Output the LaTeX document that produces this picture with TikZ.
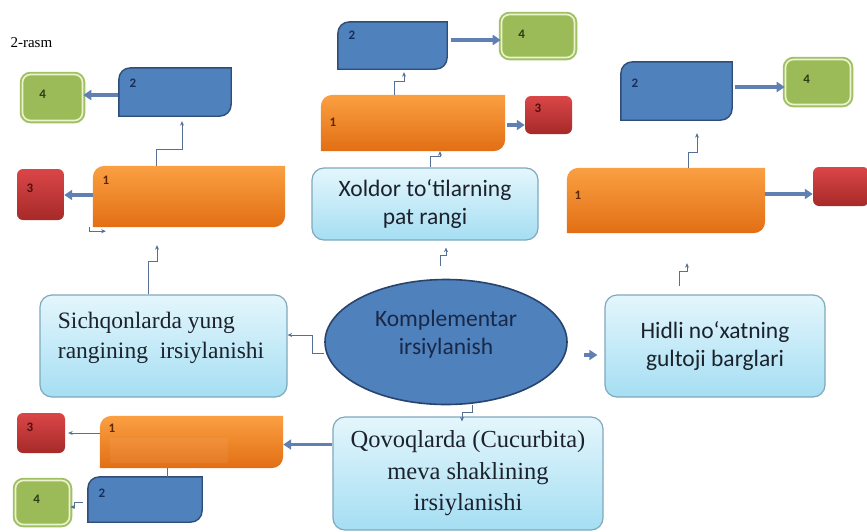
\documentclass[tikz,border=0pt]{standalone}
\usepackage{fontspec}
\setmainfont{Liberation Serif}
\newfontfamily\calib{Carlito}
\usetikzlibrary{shapes.geometric, arrows.meta, positioning, calc}

\definecolor{blueface}{RGB}{79, 129, 189}
\definecolor{blueedge}{RGB}{47, 77, 118}
\definecolor{orangetop}{RGB}{250, 160, 66}
\definecolor{orangebot}{RGB}{226, 110, 20}
\definecolor{redtop}{RGB}{218, 70, 72}
\definecolor{redbot}{RGB}{166, 42, 40}
\definecolor{greenface}{RGB}{155, 187, 89}
\definecolor{greenring}{RGB}{160, 192, 100}
\definecolor{greenlight}{RGB}{236, 242, 206}
\definecolor{topictop}{RGB}{228, 246, 252}
\definecolor{topicbot}{RGB}{165, 222, 243}
\definecolor{topicedge}{RGB}{128, 168, 188}
\definecolor{hubedge}{RGB}{40, 68, 108}
\definecolor{hubink}{RGB}{25, 40, 70}
\definecolor{inkdark}{RGB}{28, 34, 44}
\definecolor{linkgray}{RGB}{84, 112, 150}
\definecolor{fatblue}{RGB}{96, 128, 180}
\definecolor{numblue}{RGB}{25, 45, 90}
\definecolor{numorange}{RGB}{95, 40, 5}
\definecolor{numred}{RGB}{80, 15, 15}
\definecolor{numgreen}{RGB}{45, 60, 20}

% box with rounded top-left and bottom-right corners only
\newcommand{\diagfill}[2]{%
  \path[#2] (#1.north east) -- ([yshift=12pt]#1.south east)
    .. controls ([yshift=5pt]#1.south east) and ([xshift=-5pt]#1.south east) .. ([xshift=-12pt]#1.south east)
    -- (#1.south west) -- ([yshift=-12pt]#1.north west)
    .. controls ([yshift=-5pt]#1.north west) and ([xshift=5pt]#1.north west) .. ([xshift=12pt]#1.north west) -- cycle;}

\begin{document}
\begin{tikzpicture}[x=1pt, y=-1pt,
  slot/.style 2 args={minimum width=#1pt, minimum height=#2pt, inner sep=0pt},
  bluefill/.style={fill=blueface, draw=blueedge, line width=1.4pt},
  orangefill/.style={top color=orangetop, bottom color=orangebot},
  redbox/.style 2 args={minimum width=#1pt, minimum height=#2pt, inner sep=0pt,
    rounded corners=6pt, top color=redtop, bottom color=redbot},
  greenbox/.style 2 args={minimum width=#1pt, minimum height=#2pt, inner sep=0pt,
    rounded corners=8pt, fill=greenface, draw=greenlight, line width=1.6pt,
    preaction={draw=greenring, line width=5.5pt}},
  num/.style={font=\calib\bfseries\fontsize{13pt}{13pt}\selectfont, inner sep=0pt},
  topic/.style={rounded corners=12pt, draw=topicedge, line width=1.2pt,
    top color=topictop, bottom color=topicbot, inner sep=0pt, align=center, text=inkdark},
  sansbig/.style={font=\calib\fontsize{23.5pt}{28pt}\selectfont},
  serifbig/.style={font=\fontsize{23.5pt}{30pt}\selectfont},
  serifq/.style={font=\fontsize{24.5pt}{31.5pt}\selectfont},
  hub/.style={ellipse, fill=blueface, draw=hubedge, line width=1.6pt,
    minimum width=242pt, minimum height=125pt, inner sep=0pt},
  link/.style={draw=linkgray, line width=0.9pt, -{Stealth[length=4.5pt, width=4pt]}},
  tie/.style={draw=linkgray, line width=0.9pt},
  fat/.style={draw=fatblue, line width=3.5pt, -{Triangle[length=8pt, width=10pt]}}
]
  \useasboundingbox (0,0) rectangle (867,531);
  \clip (0,0) rectangle (867,531);

  \node[font=\fontsize{15pt}{15pt}\selectfont, anchor=west] (rasm) at (7,43) {2-rasm};

  % topics round the hub
  \node[topic, minimum width=247pt, minimum height=102pt] (sq) at (163.5,346) {};
  \node[serifbig, align=left, anchor=west, text=inkdark] (sqText) at ([xshift=15pt, yshift=8pt]sq.west)
    {Sichqonlarda yung\\rangining~~irsiylanishi};
  \node[topic, sansbig, minimum width=226pt, minimum height=72pt] (xo) at (425,204)
    {Xoldor to‘tilarning\\pat rangi};
  \node[topic, sansbig, minimum width=220pt, minimum height=102pt] (hd) at (715,346)
    {Hidli no‘xatning\\gultoji barglari};
  \node[topic, serifq, minimum width=270pt, minimum height=113pt] (qv) at (468,473.5)
    {Qovoqlarda (Cucurbita)\\meva shaklining\\irsiylanishi};
  \node[hub] (el) at (446,342) {};
  \node[sansbig, align=center, text=hubink] (elText) at ([yshift=8pt]el.center)
    {Komplementar\\irsiylanish};

  % blue and orange slots
  \node[slot={112}{48}] (b2L) at (175,92) {};
  \node[slot={192}{61}] (o1L) at (189,196.5) {};
  \node[slot={109}{47}] (b2C) at (392.5,45.5) {};
  \node[slot={184}{56}] (o1C) at (413,123) {};
  \node[slot={111}{58}] (b2R) at (676.5,91) {};
  \node[slot={198}{65}] (o1R) at (666,200.5) {};
  \node[slot={114}{45}] (b2B) at (145,499.5) {};
  \node[slot={183}{52}] (o1B) at (191.5,442) {};
  \diagfill{b2L}{bluefill}
  \diagfill{b2C}{bluefill}
  \diagfill{b2R}{bluefill}
  \diagfill{b2B}{bluefill}
  \diagfill{o1L}{orangefill}
  \diagfill{o1C}{orangefill}
  \diagfill{o1R}{orangefill}
  \diagfill{o1B}{orangefill}
  \fill[white, opacity=0.06] ([shift={(10,22)}]o1B.north west) rectangle ([shift={(128,47)}]o1B.north west);

  % red and green boxes
  \node[redbox={47}{51}] (r3L) at (40.5,194.5) {};
  \node[redbox={47}{38}] (r3C) at (548.5,115) {};
  \node[redbox={56}{39}] (r3R) at (841,186.5) {};
  \node[redbox={48}{40}] (r3B) at (41,433) {};
  \node[greenbox={60}{46}] (g4L) at (52.5,97.5) {};
  \node[greenbox={73}{43}] (g4C) at (538,36) {};
  \node[greenbox={65}{45}] (g4R) at (818,82) {};
  \node[greenbox={54}{44}] (g4B) at (42.5,502.5) {};

  % numbers
  \node[num, text=numblue] (n2L) at ([shift={(14,15)}]b2L.north west) {2};
  \node[num, text=numorange] (n1L) at ([shift={(13,14)}]o1L.north west) {1};
  \node[num, text=numred] (n3L) at ([shift={(13,19)}]r3L.north west) {3};
  \node[num, text=numgreen] (n4L) at ([shift={(21,21)}]g4L.north west) {4};
  \node[num, text=numblue] (n2C) at ([shift={(14,13)}]b2C.north west) {2};
  \node[num, text=numorange] (n1C) at ([shift={(12,27)}]o1C.north west) {1};
  \node[num, text=numred] (n3C) at ([shift={(13,12)}]r3C.north west) {3};
  \node[num, text=numgreen] (n4C) at ([shift={(21,21)}]g4C.north west) {4};
  \node[num, text=numblue] (n2R) at ([shift={(14,21)}]b2R.north west) {2};
  \node[num, text=numorange] (n1R) at ([shift={(11,27)}]o1R.north west) {1};
  \node[num, text=numgreen] (n4R) at ([shift={(22,21)}]g4R.north west) {4};
  \node[num, text=numred] (n3B) at ([shift={(13,14)}]r3B.north west) {3};
  \node[num, text=numorange] (n1B) at ([shift={(12,12)}]o1B.north west) {1};
  \node[num, text=numblue] (n2B) at ([shift={(14,16)}]b2B.north west) {2};
  \node[num, text=numgreen] (n4B) at ([shift={(22,20)}]g4B.north west) {4};

  % connectors
  \draw[link] ([yshift=-11pt]el.west) -- ++(-12,0) |- ([yshift=11pt]sq.east);
  \draw[link] ([xshift=-6pt, yshift=13pt]el.north) -- ++(0,-10) -| ([xshift=21pt, yshift=-7pt]xo.south);
  \draw[link] ([xshift=26pt]el.south) -- ++(0,7) -| ([xshift=-6pt, yshift=-5pt]qv.north);
  \draw[fat] ([xshift=16pt, yshift=-13pt]el.east) -- ([xshift=-7pt, yshift=-9pt]hd.west);

  \draw[link] ([xshift=-15.5pt]sq.north) -- ++(0,-33) -| ([xshift=-32pt, yshift=-18pt]o1L.south);
  \draw[link] ([xshift=-33pt]o1L.north) -- ++(0,-16) -| ([xshift=7pt, yshift=-5pt]b2L.south);
  \draw[link] ([xshift=-3pt]o1L.south west) |- ++(16,4);
  \draw[fat, shorten <=1pt] ([yshift=-3pt]b2L.west) -- ([yshift=-3pt]b2L.west -| g4L.east);
  \draw[fat] ([yshift=1.5pt]o1L.west) -- ([yshift=1.5pt]o1L.west -| r3L.east);

  \draw[link] ([xshift=5pt]xo.north) -- ++(0,-11) -| ([xshift=27pt]o1C.south);
  \draw[link] ([xshift=-19pt]o1C.north) -- ++(0,-13) -| ([xshift=11.5pt, yshift=-3pt]b2C.south);
  \draw[fat, shorten <=4pt] ([yshift=5.5pt]b2C.east) -- ([yshift=5.5pt]b2C.east -| g4C.west);
  \draw[fat, shorten <=2pt] ([yshift=-2pt]o1C.east) -- ([yshift=-2pt]o1C.east -| r3C.west);

  \draw[link] ([xshift=-36pt, yshift=8pt]hd.north) -- ++(0,-15) -| ([xshift=21pt, yshift=-30pt]o1R.south);
  \draw[link] ([xshift=22pt]o1R.north) -- ++(0,-15) -| ([xshift=20.5pt, yshift=-13pt]b2R.south);
  \draw[fat, shorten <=3pt] ([yshift=4pt]b2R.east) -- ([yshift=4pt]b2R.east -| g4R.west);
  \draw[fat] ([yshift=6.5pt]o1R.east) -- ([yshift=6.5pt]o1R.east -| r3R.west);

  \draw[fat] ([yshift=29pt]qv.west) -- ([yshift=29pt]qv.west -| o1B.east);
  \draw[link, shorten >=3pt] ([yshift=9pt]o1B.west) -- ([yshift=9pt]o1B.west -| r3B.east);
  \draw[tie] ([xshift=-24.5pt]o1B.south) -- ([xshift=-24.5pt]o1B.south |- b2B.north);
  \draw[link] ([xshift=-5pt, yshift=-2.5pt]b2B.west) -- ++(-8,0) |- ([yshift=-4.5pt]g4B.east);
\end{tikzpicture}
\end{document}
